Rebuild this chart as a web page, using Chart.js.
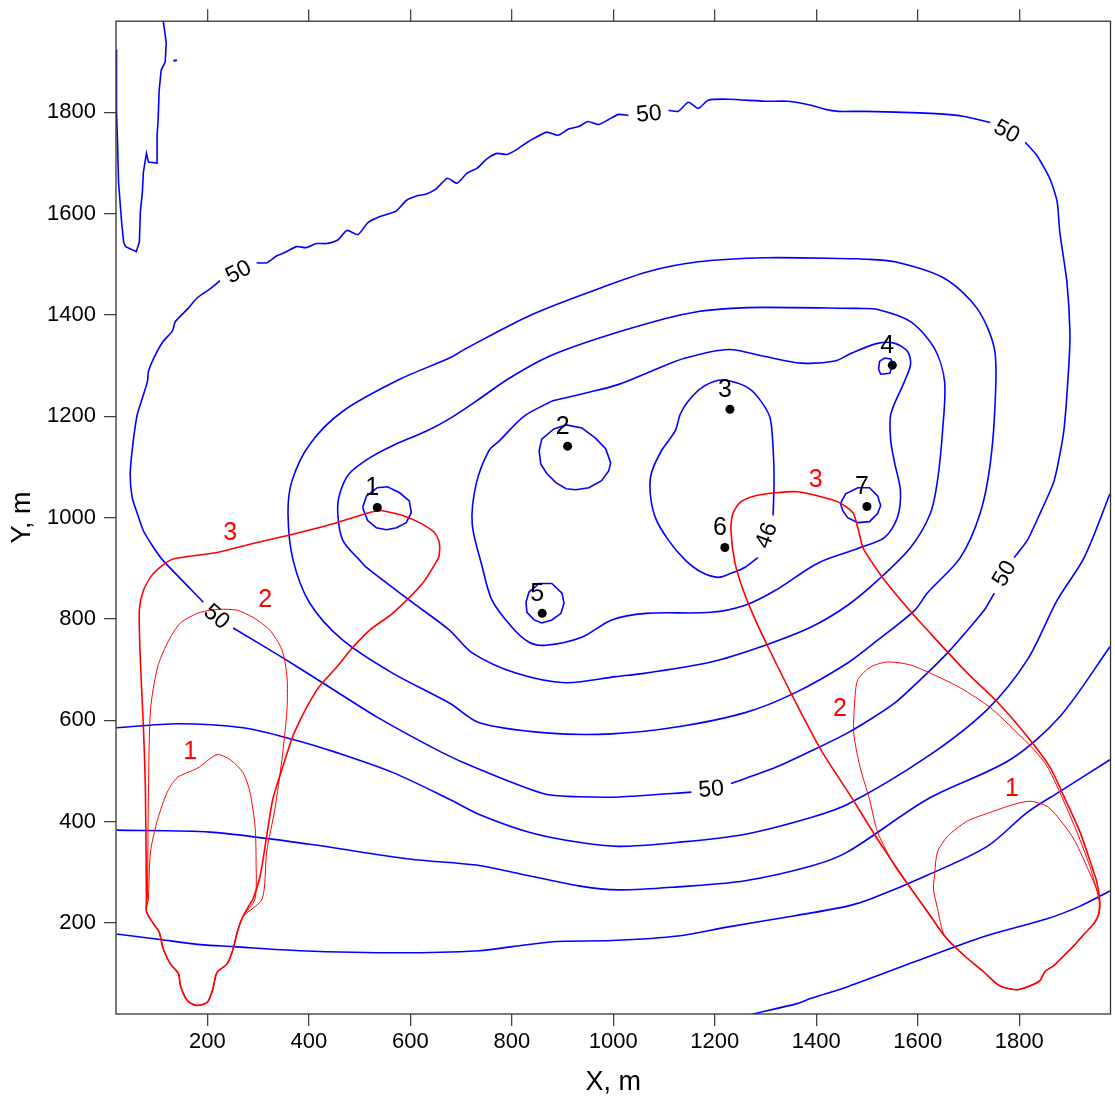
<!DOCTYPE html>
<html>
<head>
<meta charset="utf-8">
<script src="https://cdn.jsdelivr.net/npm/chart.js@4.4.1/dist/chart.umd.min.js"></script>
<style>
  body { margin: 0; background: #fff; }
  canvas { display: block; }
</style>
</head>
<body>
<canvas id="chart" width="1115" height="1099"></canvas>
<script>
// axis ticks (metres)
const xTicks = [200, 400, 600, 800, 1000, 1200, 1400, 1600, 1800];
const yTicks = [200, 400, 600, 800, 1000, 1200, 1400, 1600, 1800];

// blue isolines, [x, y] in metres, null = break for a label
const spikeTopLeft = [[113,1981],[119,1938],[117,1900],[109,1883],[105,1843],[103,1784],[101,1755],[101,1700],[84,1702],[80,1719],[74,1682],[72,1643],[68,1603],[66,1544],[60,1525],[39,1535],[35,1544],[31,1584],[25,1662],[23,1741],[21,1800],[21,1924]];
const speckTopLeft = [[133,1902],[140,1903]];

const iso50 = [
  [297,1503],[317,1503],[337,1517],[356,1525],[376,1535],[395,1533],[415,1541],[435,1541],[457,1548],[475,1567],[497,1559],[516,1582],[539,1594],[572,1605],[592,1626],[612,1635],[632,1639],[651,1649],[673,1670],[692,1660],[712,1680],[732,1690],[751,1708],[771,1719],[791,1717],[810,1727],[834,1743],[869,1761],[891,1755],[912,1767],[932,1772],[950,1782],[971,1776],[991,1786],[1011,1796],[1030,1794],
  null,
  [1109,1804],[1128,1802],[1148,1820],[1168,1808],[1187,1824],[1227,1826],[1299,1822],[1344,1822],[1390,1814],[1417,1806],[1443,1802],[1496,1802],[1625,1798],[1692,1792],[1743,1780],
  null,
  [1812,1741],[1835,1715],[1861,1668],[1875,1623],[1880,1564],[1894,1466],[1900,1368],[1898,1303],[1888,1171],[1869,1073],[1841,1008],[1816,955],[1790,921],
  null,
  [1751,851],[1731,817],[1659,733],[1555,634],[1462,575],[1325,509],[1232,475],
  null,
  [1154,458],[997,448],[867,454],[736,503],[663,536],[533,607],[427,674],[349,723],[251,782],
  null,
  [192,833],[113,915],[94,941],[74,974],[62,1008],[52,1039],[48,1086],[54,1151],[62,1204],[72,1236],[82,1269],[84,1289],[94,1314],[113,1348],[131,1368],[137,1387],[162,1413],[180,1434],[206,1452],[225,1468]
];
const ring1 = [[1482,1511],[1299,1513],[1168,1505],[1070,1486],[971,1452],[840,1401],[710,1334],[677,1315],[579,1273],[467,1210],[402,1145],[367,1073],[359,1008],[369,916],[402,831],[467,758],[565,693],[677,634],[736,595],[867,575],[997,573],[1128,587],[1260,615],[1358,654],[1462,713],[1521,758],[1594,817],[1619,851],[1684,921],[1723,1008],[1743,1106],[1753,1236],[1751,1334],[1717,1413],[1653,1472],[1555,1505],[1482,1511]];
const ring2 = [[1482,1413],[1299,1415],[1232,1413],[1168,1407],[1103,1393],[971,1354],[873,1318],[795,1275],[730,1230],[677,1195],[632,1171],[565,1142],[520,1118],[480,1087],[461,1047],[457,1008],[467,955],[500,916],[513,902],[598,837],[677,778],[722,733],[808,693],[906,674],[1005,686],[1064,693],[1193,715],[1291,745],[1390,784],[1462,827],[1521,876],[1586,941],[1625,1008],[1639,1073],[1649,1171],[1653,1269],[1633,1334],[1586,1387],[1521,1411],[1482,1413]];
const ring3 = [[879,1230],[946,1246],[1011,1263],[1075,1289],[1142,1315],[1227,1332],[1299,1318],[1370,1305],[1437,1309],[1468,1324],[1521,1344],[1555,1344],[1580,1328],[1586,1303],[1574,1269],[1547,1204],[1547,1151],[1555,1106],[1566,1053],[1560,1000],[1535,961],[1482,939],[1403,910],[1319,856],[1260,827],[1193,813],[1064,811],[997,798],[938,764],[867,748],[834,754],[800,784],[761,837],[742,902],[722,988],[730,1067],[755,1132],[775,1151],[824,1200],[879,1230]];
const iso46 = [[1285,921],[1260,902],[1232,890],[1207,882],[1174,892],[1142,916],[1109,955],[1083,1000],[1073,1047],[1075,1087],[1095,1132],[1122,1171],[1132,1204],[1148,1230],[1174,1256],[1207,1271],[1232,1269],[1266,1256],[1291,1230],[1309,1197],[1315,1138],[1317,1073],[1315,1004]];
const loopWell1 = [[506,1020],[514,1043],[535,1059],[555,1061],[579,1049],[598,1033],[602,1010],[592,990],[573,980],[553,976],[533,980],[516,994],[506,1020]];
const loopWell2 = [[854,1132],[859,1155],[883,1175],[907,1183],[938,1177],[965,1157],[985,1136],[995,1108],[991,1092],[977,1073],[952,1059],[926,1055],[907,1057],[887,1069],[869,1087],[857,1106],[854,1132]];
const loopWell5 = [[828,833],[834,853],[854,870],[879,870],[899,851],[903,831],[897,811],[879,798],[859,792],[844,798],[830,813],[828,833]];
const loopWell4 = [[1525,1309],[1535,1315],[1547,1313],[1551,1303],[1545,1285],[1527,1283],[1523,1293],[1525,1309]];
const loopWell7 = [[1448,1028],[1458,1047],[1482,1059],[1505,1059],[1521,1043],[1527,1024],[1521,1008],[1505,992],[1482,990],[1462,1000],[1452,1014],[1448,1028]];
const iso52 = [[21,585],[141,593],[270,585],[369,562],[455,536],[565,497],[677,444],[736,414],[834,379],[932,359],[1011,351],[1128,359],[1260,375],[1390,408],[1462,434],[1619,528],[1737,621],[1816,719],[1875,837],[1928,921],[1979,1047]];
const iso54 = [[21,383],[206,379],[402,355],[598,326],[730,314],[801,300],[932,273],[1011,265],[1128,271],[1260,283],[1390,312],[1462,340],[1619,444],[1782,522],[1880,607],[1979,745]];
const iso56 = [[21,178],[107,167],[186,157],[251,153],[382,145],[579,141],[736,145],[801,153],[887,163],[997,165],[1128,174],[1227,192],[1358,214],[1462,233],[1507,247],[1619,294],[1737,351],[1816,418],[1880,459],[1979,522]];
const iso58 = [[1275,20],[1364,41],[1390,51],[1462,74],[1594,123],[1731,173],[1855,208],[1920,233],[1979,263]];

// red zones: branches + shared bottom lobes
const leftLobe = [[270,212],[259,182],[251,149],[239,119],[219,102],[211,70],[200,43],[178,37],[160,47],[147,76],[143,100],[127,119],[113,149],[105,182],[94,198],[80,222]];
const left3 = [[80,247],[78,458],[74,587],[68,719],[66,817],[74,856],[94,890],[127,916],[160,923],[219,931],[290,949],[376,969],[455,990],[520,1010],[539,1014],[553,1012],[585,1004],[618,990],[647,971],[657,951],[657,925],[651,912],[624,870],[565,811],[520,778],[486,743],[455,705],[416,660],[372,577],[349,509],[329,444],[317,371],[304,292],[290,247],[284,237]];
const left2 = [[82,253],[84,458],[88,621],[102,705],[121,752],[147,792],[186,813],[225,819],[259,817],[290,803],[323,778],[347,739],[357,686],[357,621],[347,522],[333,424],[317,340],[308,247]];
const left1 = [[84,247],[88,340],[102,404],[121,458],[141,487],[180,505],[219,532],[245,522],[270,497],[284,458],[294,391],[296,326],[294,247]];
const rightLobe = [[1957,218],[1947,198],[1928,178],[1908,155],[1888,135],[1869,116],[1851,104],[1841,86],[1822,76],[1796,68],[1761,76],[1727,106],[1692,135],[1653,174]];
const right3 = [[1625,214],[1580,277],[1521,365],[1468,450],[1409,542],[1350,654],[1305,745],[1280,798],[1256,857],[1240,910],[1232,974],[1236,1008],[1250,1030],[1280,1043],[1319,1049],[1364,1051],[1403,1043],[1443,1031],[1472,1010],[1482,980],[1492,941],[1507,916],[1535,876],[1584,817],[1619,778],[1698,693],[1757,636],[1816,568],[1861,507],[1888,450],[1920,379],[1947,300],[1953,281],[1959,241]];
const right2 = [[1594,257],[1555,312],[1521,379],[1505,444],[1486,509],[1474,575],[1476,640],[1482,680],[1507,705],[1541,715],[1586,709],[1633,689],[1684,664],[1743,625],[1790,581],[1829,542],[1855,509],[1880,458],[1914,379],[1939,312],[1957,247]];
const right1 = [[1639,228],[1631,267],[1633,292],[1639,340],[1659,371],[1698,401],[1743,418],[1790,434],[1822,440],[1855,430],[1880,404],[1908,365],[1933,312],[1957,253]];

// wells
const wellNames = ['1', '2', '3', '4', '5', '6', '7'];
const wellX = [535, 910, 1230, 1550, 860, 1220, 1500];
const wellY = [1020, 1141, 1214, 1301, 811, 941, 1022];

// isoline labels
const isoText = ['50', '50', '50', '50', '50', '50', '46'];
const isoX = [261, 1070, 1776, 219, 1770, 1193, 1301];
const isoY = [1486, 1798, 1763, 805, 890, 465, 965];

// zone labels
const zoneText = ['3', '2', '1', '3', '2', '1'];
const zoneX = [245, 314, 166, 1399, 1447, 1786];
const zoneY = [969, 837, 538, 1075, 621, 463];

const FONT = "'Liberation Sans', Arial, sans-serif";
const isoAngle = [-27, -5, 28, 40, -60, -5, -70];

function toPoints(pairs) {
  let lastX = 0;
  return pairs.map(p => {
    if (!p) return { x: lastX, y: null };
    lastX = p[0];
    return { x: p[0], y: p[1] };
  });
}

function closed(path, lobe) {
  return path.concat(lobe, [path[0]]);
}

function lineSet(pairs, color, width, tension) {
  return {
    data: toPoints(pairs),
    showLine: true,
    borderColor: color,
    borderWidth: width,
    pointRadius: 0,
    tension: tension,
    spanGaps: false,
    order: color === 'blue' ? 3 : 2,
  };
}

const datasets = [
  lineSet(spikeTopLeft, 'blue', 1.6, 0),
  lineSet(speckTopLeft, 'blue', 2, 0),
  lineSet(iso50, 'blue', 1.6, 0.2),
  lineSet(ring1, 'blue', 1.6, 0.3),
  lineSet(ring2, 'blue', 1.6, 0.3),
  lineSet(ring3, 'blue', 1.6, 0.3),
  lineSet(iso46, 'blue', 1.6, 0.3),
  lineSet(loopWell1, 'blue', 1.6, 0),
  lineSet(loopWell2, 'blue', 1.6, 0),
  lineSet(loopWell5, 'blue', 1.6, 0),
  lineSet(loopWell4, 'blue', 1.6, 0),
  lineSet(loopWell7, 'blue', 1.6, 0),
  lineSet(iso52, 'blue', 1.6, 0.3),
  lineSet(iso54, 'blue', 1.6, 0.3),
  lineSet(iso56, 'blue', 1.6, 0.3),
  lineSet(iso58, 'blue', 1.6, 0.3),
  lineSet(closed(left3, leftLobe), 'red', 1.6, 0.25),
  lineSet(closed(left2, leftLobe), 'red', 1, 0.25),
  lineSet(closed(left1, leftLobe), 'red', 1, 0.25),
  lineSet(closed(right3, rightLobe), 'red', 1.6, 0.25),
  lineSet(closed(right2, rightLobe), 'red', 1, 0.25),
  lineSet(closed(right1, rightLobe), 'red', 1, 0.25),
  {
    data: wellX.map((x, i) => ({ x: x, y: wellY[i] })),
    showLine: false,
    pointRadius: 4.5,
    pointBackgroundColor: '#000',
    pointBorderWidth: 0,
    order: 1,
  },
];

const labelsPlugin = {
  id: 'labels',
  afterDatasetsDraw(chart) {
    const { ctx, scales: { x, y } } = chart;
    ctx.save();
    ctx.textAlign = 'center';
    ctx.textBaseline = 'middle';

    ctx.fillStyle = '#000';
    ctx.font = '23px ' + FONT;
    isoText.forEach((t, i) => {
      ctx.save();
      ctx.translate(x.getPixelForValue(isoX[i]), y.getPixelForValue(isoY[i]));
      ctx.rotate(isoAngle[i] * Math.PI / 180);
      ctx.fillText(t, 0, 1);
      ctx.restore();
    });

    ctx.font = '25px ' + FONT;
    wellNames.forEach((t, i) => {
      ctx.fillText(t, x.getPixelForValue(wellX[i]) - 5, y.getPixelForValue(wellY[i]) - 19);
    });

    ctx.fillStyle = '#ff0000';
    zoneText.forEach((t, i) => {
      ctx.fillText(t, x.getPixelForValue(zoneX[i]), y.getPixelForValue(zoneY[i]));
    });

    const a = chart.chartArea;
    ctx.strokeStyle = '#333';
    ctx.lineWidth = 1.3;
    ctx.strokeRect(a.left, a.top, a.right - a.left, a.bottom - a.top);
    ctx.restore();
  },
};

const tickGrid = { drawOnChartArea: false, tickLength: 12, color: '#444', lineWidth: 1.3 };
const tickFont = { size: 22, family: FONT };
const titleFont = { size: 27, family: FONT };

new Chart(document.getElementById('chart'), {
  type: 'scatter',
  data: { datasets: datasets },
  options: {
    responsive: false,
    animation: false,
    devicePixelRatio: 1,
    layout: { padding: { left: 0, right: 1, top: 0, bottom: 0 } },
    plugins: { legend: { display: false }, tooltip: { enabled: false } },
    scales: {
      x: {
        type: 'linear',
        position: 'bottom',
        min: 20,
        max: 1980,
        afterBuildTicks: s => { s.ticks = xTicks.map(v => ({ value: v })); },
        afterFit: s => { s.height = 85; },
        ticks: { font: tickFont, color: '#000', padding: 3, maxRotation: 0, callback: v => String(v) },
        grid: tickGrid,
        border: { display: false },
        title: { display: true, text: 'X, m', font: titleFont, color: '#000', padding: { top: 0, bottom: 0 } },
      },
      xTop: {
        type: 'linear',
        position: 'top',
        min: 20,
        max: 1980,
        afterBuildTicks: s => { s.ticks = xTicks.map(v => ({ value: v })); },
        afterFit: s => { s.height = 18; },
        ticks: { display: false },
        grid: tickGrid,
        border: { display: false },
      },
      y: {
        type: 'linear',
        position: 'left',
        min: 20,
        max: 1980,
        afterBuildTicks: s => { s.ticks = yTicks.map(v => ({ value: v })); },
        afterFit: s => { s.width = 116; },
        ticks: { font: tickFont, color: '#000', padding: 8, callback: v => String(v) },
        grid: tickGrid,
        border: { display: false },
        title: { display: true, text: 'Y, m', font: titleFont, color: '#000', padding: { top: 6, bottom: 0 } },
      },
    },
  },
  plugins: [labelsPlugin],
});
</script>
</body>
</html>
